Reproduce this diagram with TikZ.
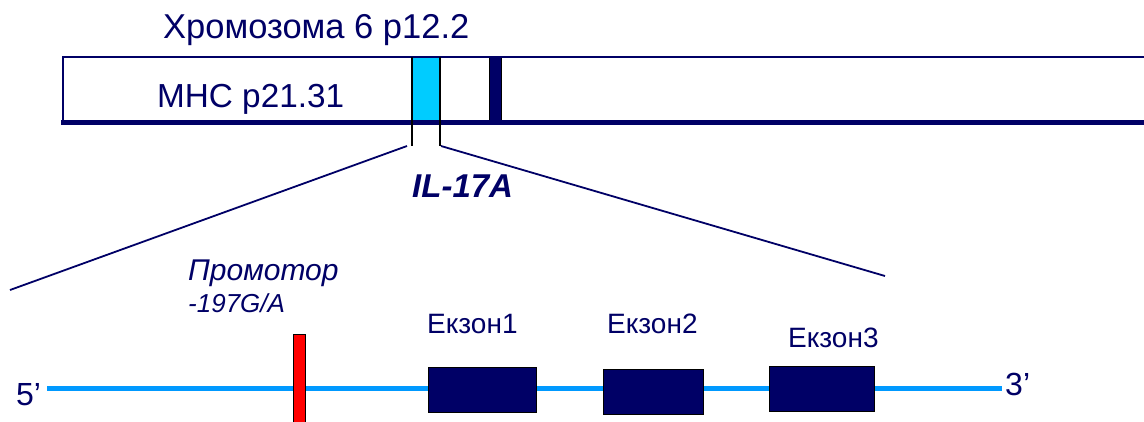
\documentclass[tikz,border=0pt]{standalone}
\usepackage{fontspec}
\setmainfont{Liberation Sans}
\definecolor{navy}{RGB}{0,0,102}
\definecolor{genecyan}{RGB}{0,204,255}
\definecolor{geneline}{RGB}{0,153,255}
\definecolor{snpred}{RGB}{255,0,0}
\newcommand{\fsz}[1]{\fontsize{#1}{#1}\selectfont}
\begin{document}
\begin{tikzpicture}[x=1pt,y=-1pt,
  label text/.style={inner sep=0pt, anchor=base west, text=navy},
  exonbox/.style={draw=black, line width=1pt, fill=navy, inner sep=0pt, minimum height=45pt},
  zoomline/.style={draw=navy, line width=1.8pt},
  tickline/.style={draw=black, line width=1.5pt}]
\useasboundingbox (0,0) rectangle (1144,421);
\fill[white] (0,0) rectangle (1144,421);

% chromosome band
\fill[white] (63,57) rectangle (1150,122);
\fill[genecyan] (412,57) rectangle (440,121);
\fill[navy, draw=black, line width=1pt] (489,57) rectangle (501,123);
\draw[navy, line width=2pt] (1150,57) -- (63,57) -- (63,122);
\draw[navy, line width=5pt] (61,122.5) -- (1150,122.5);

% IL-17A locus marks
\coordinate (lt) at (412,57);
\coordinate (lb) at (412,146);
\coordinate (rt) at (440,57);
\coordinate (rb) at (440,146);
\draw[tickline] (lt) -- (lb);
\draw[tickline] (rt) -- (rb);

% expansion lines
\coordinate (zl) at (10,290);
\coordinate (zr) at (885,276);
\draw[zoomline] (407,146) -- (zl);
\draw[zoomline] (441,146) -- (zr);

% labels in the top part
\node[label text, font=\fsz{34.5}] (chr) at (163,38) {Хромозома 6 p12.2};
\node[label text, font=\fsz{33.3}] (mhc) at (157,107) {MHC p21.31};
\node[label text, font=\fsz{33}\bfseries\itshape] (il) at (412,197) {IL-17A};

% gene line
\coordinate (g5) at (47,388);
\coordinate (g3) at (1002,388);
\draw[geneline, line width=5pt] (g5) -- (g3);
\node[label text, font=\fsz{32}] (p5) at (16,405) {5’};
\node[label text, font=\fsz{32}] (p3) at (1005,395) {3’};

% promoter SNP
\fill[snpred, draw=black, line width=1pt] (293,334) rectangle (305,430);
\node[label text, font=\fsz{30}\itshape] (prom) at (188,280) {Промотор};
\node[label text, font=\fsz{26}\itshape] (snp) at (188,312) {-197G/A};

% exons
\node[exonbox, minimum width=108pt] (e1) at (482,389.5) {};
\node[exonbox, minimum width=100pt] (e2) at (653,391.5) {};
\node[exonbox, minimum width=105pt] (e3) at (821.5,388.5) {};
\node[label text, font=\fsz{28}] (l1) at (427,333) {Екзон1};
\node[label text, font=\fsz{28}] (l2) at (607,333) {Екзон2};
\node[label text, font=\fsz{28}] (l3) at (788,347) {Екзон3};
\end{tikzpicture}
\end{document}
